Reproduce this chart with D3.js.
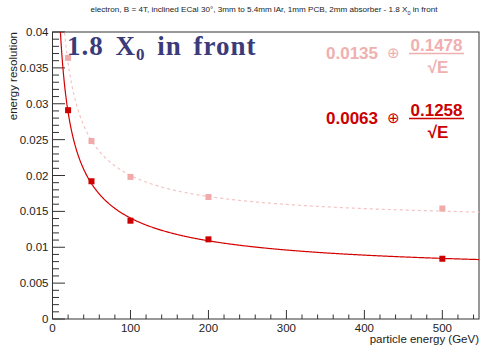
<!DOCTYPE html>
<html lang="en">
<head>
<meta charset="UTF-8">
<title>energy resolution</title>
<script src="https://d3js.org/d3.v7.min.js"></script>
<style>
  body { margin: 0; background: #fff; }
  text { font-family: "Liberation Sans", Arial, sans-serif; }
</style>
</head>
<body>
<script>
// measured points
var energies = [20, 50, 100, 200, 500];
var resFront = [0.0364, 0.0248, 0.0198, 0.0170, 0.0154];   // pink, upper
var resMain = [0.0291, 0.0192, 0.0137, 0.0111, 0.0084];    // dark red
var errFront = [0.0004, 0.0003, 0.0003, 0.0002, 0.0002];
var errMain = [0.0004, 0.0003, 0.0002, 0.0002, 0.0002];
// fit parameters: const (+) stoch / sqrt(E)
var fitFront = [0.0135, 0.1478];
var fitMain = [0.0063, 0.1258];
var xTicks = [0, 100, 200, 300, 400, 500];
var yTicks = [0, 0.005, 0.01, 0.015, 0.02, 0.025, 0.03, 0.035, 0.04];

var width = 480, height = 346;
var padL = 52.5, padR = 479, padT = 32, padB = 319;

var x = d3.scaleLinear().domain([0, 547]).range([padL, padR]);
var y = d3.scaleLinear().domain([0, 0.04]).range([padB, padT]);

var svg = d3.select("body").append("svg")
    .attr("width", width)
    .attr("height", height)
    .style("background", "white");

svg.append("defs").append("clipPath").attr("id", "clip")
    .append("rect").attr("x", padL).attr("y", padT)
    .attr("width", padR - padL).attr("height", padB - padT);

// frame
svg.append("rect")
    .attr("x", padL).attr("y", padT)
    .attr("width", padR - padL).attr("height", padB - padT)
    .attr("fill", "none").attr("stroke", "#333").attr("stroke-width", 1);

// x axis ticks (drawn inward, ROOT style)
var xMinor = d3.range(0, 547, 20);
svg.selectAll("line.xminor").data(xMinor).enter().append("line")
    .attr("x1", d => x(d)).attr("x2", d => x(d))
    .attr("y1", padB).attr("y2", d => padB - (d % 100 === 0 ? 9 : 4.5))
    .attr("stroke", "#333");
svg.selectAll("text.xlab").data(xTicks).enter().append("text")
    .attr("x", d => x(d)).attr("y", padB + 13)
    .attr("text-anchor", "middle")
    .attr("font-size", 11.5).attr("fill", "#222")
    .text(d => d);

// y axis ticks
var yMinor = d3.range(0, 0.0401, 0.001);
svg.selectAll("line.yminor").data(yMinor).enter().append("line")
    .attr("x1", padL).attr("y1", d => y(d)).attr("y2", d => y(d))
    .attr("x2", (d, i) => padL + (i % 5 === 0 ? 12.5 : 6.5))
    .attr("stroke", "#333");
svg.selectAll("text.ylab").data(yTicks).enter().append("text")
    .attr("x", padL - 4).attr("y", d => y(d) + 4)
    .attr("text-anchor", "end")
    .attr("font-size", 11.5).attr("fill", "#222")
    .text(d => d);

// axis titles
svg.append("text")
    .attr("x", padR).attr("y", 343)
    .attr("text-anchor", "end").attr("font-size", 11.5).attr("fill", "#222")
    .text("particle energy (GeV)");
svg.append("text")
    .attr("transform", "translate(17," + padT + ") rotate(-90)")
    .attr("text-anchor", "end").attr("font-size", 11.5).attr("fill", "#222")
    .text("energy resolution");

// title
var title = svg.append("text")
    .attr("x", 264).attr("y", 12)
    .attr("text-anchor", "middle").attr("font-size", 8.1).attr("fill", "#222");
title.append("tspan").text("electron, B = 4T, inclined ECal 30\u00b0, 3mm to 5.4mm lAr, 1mm PCB, 2mm absorber - 1.8 X");
title.append("tspan").attr("dy", 3).attr("font-size", 5.5).text("0");
title.append("tspan").attr("dy", -3).text(" in front");

// fit curves
var plot = svg.append("g").attr("clip-path", "url(#clip)");
var fitE = d3.range(5, 548, 1);
function reso(p, e) { return Math.sqrt(p[0] * p[0] + p[1] * p[1] / e); }
var line = d3.line().x(d => x(d[0])).y(d => y(d[1]));

plot.append("path")
    .datum(fitE.map(e => [e, reso(fitFront, e)]))
    .attr("d", line).attr("fill", "none")
    .attr("stroke", "#f4c4c4").attr("stroke-width", 1.2)
    .attr("stroke-dasharray", "3,3");
plot.append("path")
    .datum(fitE.map(e => [e, reso(fitMain, e)]))
    .attr("d", line).attr("fill", "none")
    .attr("stroke", "#d40000").attr("stroke-width", 1.2);

// points with error bars
function drawPoints(vals, errs, color) {
    var g = svg.append("g");
    g.selectAll("line").data(vals).enter().append("line")
        .attr("x1", (d, i) => x(energies[i])).attr("x2", (d, i) => x(energies[i]))
        .attr("y1", (d, i) => y(d - errs[i])).attr("y2", (d, i) => y(d + errs[i]))
        .attr("stroke", "#999");
    g.selectAll("rect").data(vals).enter().append("rect")
        .attr("x", (d, i) => x(energies[i]) - 3)
        .attr("y", d => y(d) - 3)
        .attr("width", 6).attr("height", 6)
        .attr("fill", color);
}
drawPoints(resFront, errFront, "#f0aaaa");
drawPoints(resMain, errMain, "#cc0000");

// big label
var big = svg.append("text")
    .attr("x", 67).attr("y", 55)
    .attr("font-weight", "bold").attr("font-size", 27).attr("fill", "#3b3b7a")
    .attr("letter-spacing", 1).attr("word-spacing", 4)
    .style("font-family", "'Liberation Serif', serif");
big.append("tspan").text("1.8 X");
big.append("tspan").attr("dy", 5).attr("font-size", 17).text("0");
big.append("tspan").attr("dy", -5).text(" in front");

// fit formulas
function formula(p, yBase, color) {
    var g = svg.append("g").attr("fill", color);
    g.append("text").attr("x", 378).attr("y", yBase + 6)
        .attr("text-anchor", "end").attr("font-size", 17).attr("font-weight", "bold")
        .text(p[0].toFixed(4));
    g.append("text").attr("x", 393.5).attr("y", yBase + 5)
        .attr("text-anchor", "middle").attr("font-size", 15)
        .attr("font-family", "'DejaVu Sans', sans-serif")
        .text("\u2295");
    g.append("text").attr("x", 436.5).attr("y", yBase - 2)
        .attr("text-anchor", "middle").attr("font-size", 17).attr("font-weight", "bold")
        .text(p[1].toFixed(4));
    g.append("line").attr("x1", 409).attr("x2", 464)
        .attr("y1", yBase + 0.5).attr("y2", yBase + 0.5)
        .attr("stroke", color).attr("stroke-width", 1.5);
    g.append("text").attr("x", 438).attr("y", yBase + 20)
        .attr("text-anchor", "middle").attr("font-size", 17).attr("font-weight", "bold")
        .text("\u221aE");
}
formula(fitFront, 53, "#f0b0b0");
formula(fitMain, 118, "#cc0000");
</script>
</body>
</html>
